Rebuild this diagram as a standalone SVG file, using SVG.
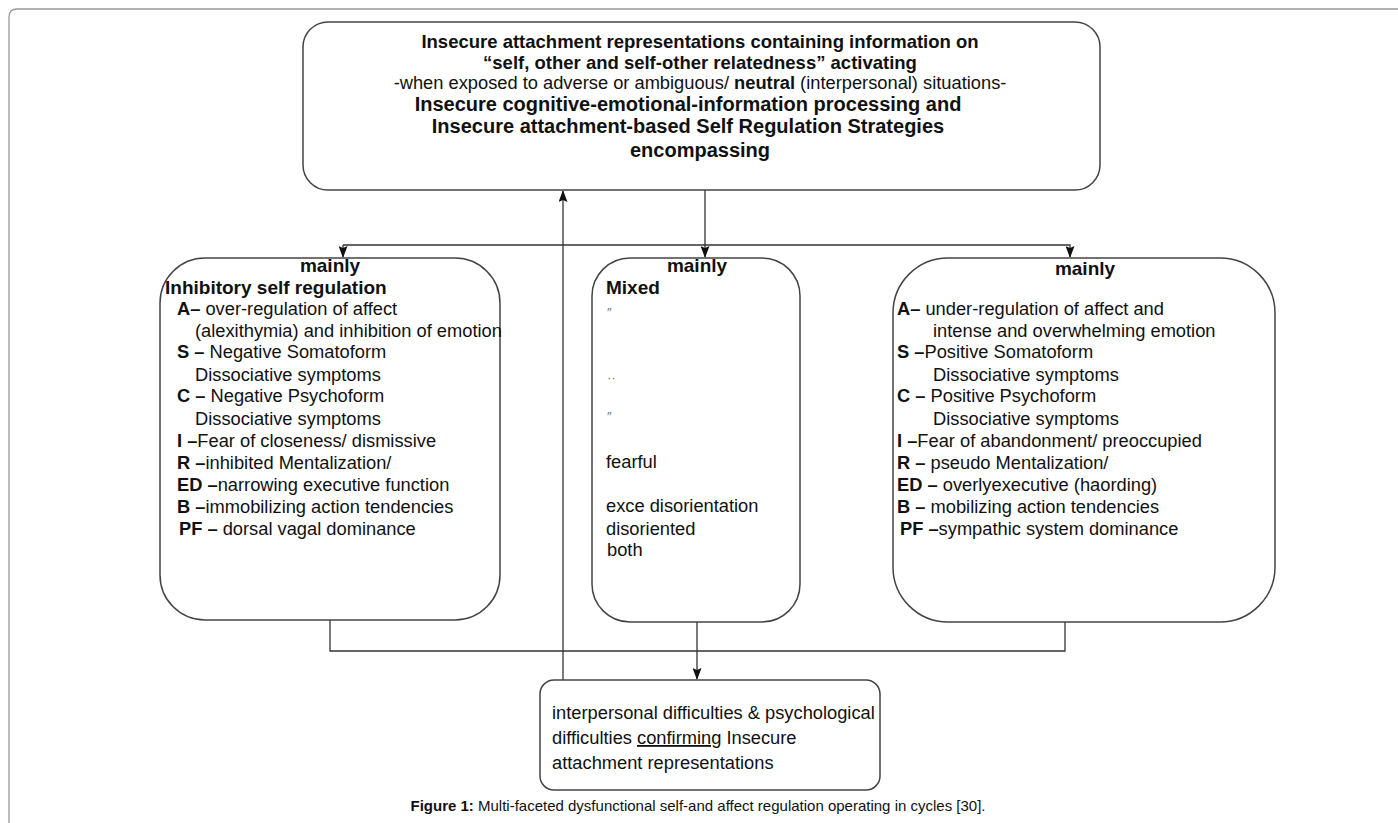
<svg xmlns="http://www.w3.org/2000/svg" width="1398" height="823" viewBox="0 0 1398 823">
<defs>
<marker id="ah" markerWidth="12" markerHeight="9" refX="11" refY="4.5" orient="auto" markerUnits="userSpaceOnUse" viewBox="0 0 12 9">
<path d="M0,0 L12,4.5 L0,9 L2,4.5 Z" fill="#111"/>
</marker>
<style>
.box{fill:#fff;stroke:#444;stroke-width:1.5}
.con{fill:none;stroke:#333;stroke-width:1.3}
text{font-family:"Liberation Sans",Arial,sans-serif;fill:#111}
.t{font-size:18.3px}
.b{font-weight:bold}
.h{font-size:18.5px;font-weight:bold}
.h2{font-size:20px;font-weight:bold}
.hm{font-size:19px;font-weight:bold}
.m{font-size:13px;fill:#777}
.cap{font-size:15px}
</style>
</defs>
<rect width="1398" height="823" fill="#fff"/>
<path d="M9,823 V17 Q9,9 17,9 H1398" fill="none" stroke="#999" stroke-width="1.3"/>

<g id="connectors">
<line class="con" x1="705" y1="190" x2="705" y2="257" marker-end="url(#ah)"/>
<polyline class="con" points="343,245 1070,245 1070,257" marker-end="url(#ah)"/>
<line class="con" x1="343" y1="245" x2="343" y2="257" marker-end="url(#ah)"/>
<line class="con" x1="563" y1="680" x2="563" y2="191" marker-end="url(#ah)"/>
<polyline class="con" points="330,620 330,651 1065,651 1065,622"/>
<line class="con" x1="697" y1="622" x2="697" y2="679" marker-end="url(#ah)"/>
</g>

<g id="top">
<rect class="box" x="303" y="22" width="797" height="168" rx="25"/>
<text class="h" x="700" y="48" text-anchor="middle">Insecure attachment representations containing information on</text>
<text class="h" x="700" y="69" text-anchor="middle">“self, other and self-other relatedness” activating</text>
<text class="t" x="700" y="89" text-anchor="middle">-when exposed to adverse or ambiguous/ <tspan class="b">neutral</tspan> (interpersonal) situations-</text>
<text class="h2" x="688" y="111" text-anchor="middle">Insecure cognitive-emotional-information processing and</text>
<text class="h2" x="688" y="133" text-anchor="middle">Insecure attachment-based Self Regulation Strategies</text>
<text class="h2" x="700" y="157" text-anchor="middle">encompassing</text>
</g>

<g id="left">
<rect class="box" x="160" y="258" width="340" height="362" rx="45"/>
<text class="hm" x="330" y="272" text-anchor="middle">mainly</text>
<text class="hm" x="165" y="294">Inhibitory self regulation</text>
<text class="t" x="177" y="315"><tspan class="b">A–</tspan> over-regulation of affect</text>
<text class="t" x="195" y="337">(alexithymia) and inhibition of emotion</text>
<text class="t" x="177" y="358"><tspan class="b">S –</tspan> Negative Somatoform</text>
<text class="t" x="195" y="381">Dissociative symptoms</text>
<text class="t" x="177" y="402"><tspan class="b">C –</tspan> Negative Psychoform</text>
<text class="t" x="195" y="425">Dissociative symptoms</text>
<text class="t" x="177" y="447"><tspan class="b">I –</tspan>Fear of closeness/ dismissive</text>
<text class="t" x="177" y="469"><tspan class="b">R –</tspan>inhibited Mentalization/</text>
<text class="t" x="177" y="491"><tspan class="b">ED –</tspan>narrowing executive function</text>
<text class="t" x="177" y="513"><tspan class="b">B –</tspan>immobilizing action tendencies</text>
<text class="t" x="179" y="535"><tspan class="b">PF –</tspan> dorsal vagal dominance</text>
</g>

<g id="middle">
<rect class="box" x="592" y="258" width="208" height="364" rx="38"/>
<text class="hm" x="697" y="272" text-anchor="middle">mainly</text>
<text class="hm" x="606" y="294">Mixed</text>
<text class="m" x="607" y="317">″</text>
<text class="m" x="607" y="382">··</text>
<text class="m" x="607" y="421">″</text>
<text class="t" x="606" y="468">fearful</text>
<text class="t" x="606" y="512">exce disorientation</text>
<text class="t" x="606" y="535">disoriented</text>
<text class="t" x="607" y="556">both</text>
</g>

<g id="right">
<rect class="box" x="893" y="258" width="382" height="364" rx="55"/>
<text class="hm" x="1085" y="275" text-anchor="middle">mainly</text>
<text class="t" x="897" y="315"><tspan class="b">A–</tspan> under-regulation of affect and</text>
<text class="t" x="933" y="337">intense and overwhelming emotion</text>
<text class="t" x="897" y="358"><tspan class="b">S –</tspan>Positive Somatoform</text>
<text class="t" x="933" y="381">Dissociative symptoms</text>
<text class="t" x="897" y="402"><tspan class="b">C –</tspan> Positive Psychoform</text>
<text class="t" x="933" y="425">Dissociative symptoms</text>
<text class="t" x="897" y="447"><tspan class="b">I –</tspan>Fear of abandonment/ preoccupied</text>
<text class="t" x="897" y="469"><tspan class="b">R –</tspan> pseudo Mentalization/</text>
<text class="t" x="897" y="491"><tspan class="b">ED –</tspan> overlyexecutive (haording)</text>
<text class="t" x="897" y="513"><tspan class="b">B –</tspan> mobilizing action tendencies</text>
<text class="t" x="900" y="535"><tspan class="b">PF –</tspan>sympathic system dominance</text>
</g>

<g id="bottom">
<rect class="box" x="540" y="680" width="340" height="110" rx="14"/>
<text class="t" x="552" y="719">interpersonal difficulties &amp; psychological</text>
<text class="t" x="552" y="744">difficulties <tspan text-decoration="underline">confirming</tspan> Insecure</text>
<text class="t" x="552" y="769">attachment representations</text>
</g>

<g id="caption">
<text class="cap" x="698" y="811" text-anchor="middle"><tspan class="b">Figure 1:</tspan> Multi-faceted dysfunctional self-and affect regulation operating in cycles [30].</text>
</g>
</svg>
